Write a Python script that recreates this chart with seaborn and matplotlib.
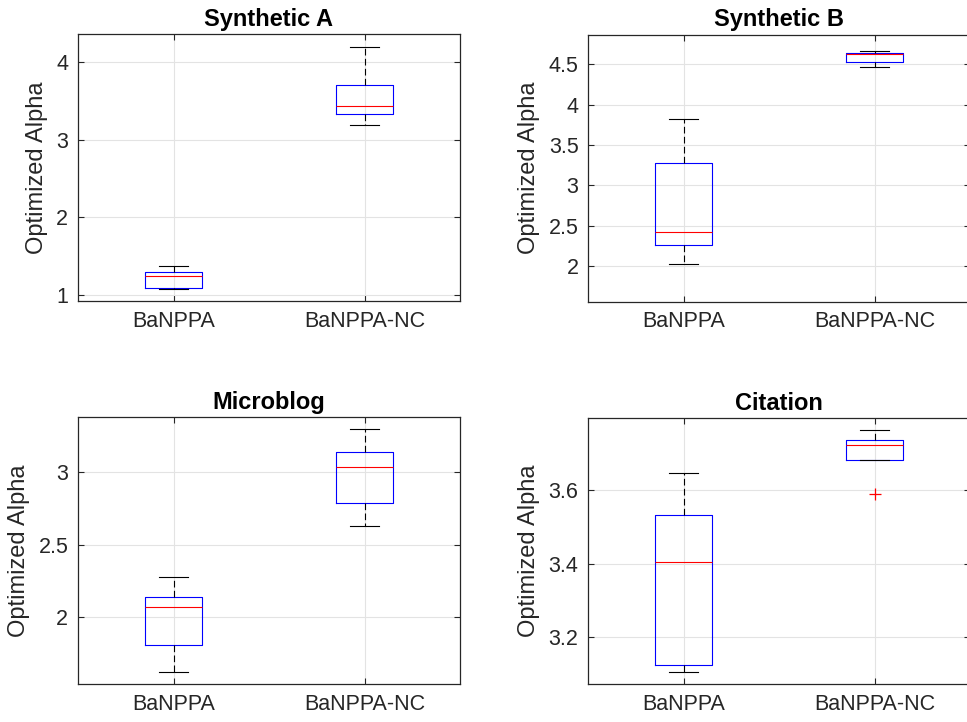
import numpy as np
import pandas as pd
import matplotlib
matplotlib.use("Agg")
import matplotlib.pyplot as plt
from matplotlib.ticker import FuncFormatter
import seaborn as sns

plt.rcParams["font.family"] = ["Liberation Sans", "DejaVu Sans"]

methods = ["BaNPPA", "BaNPPA-NC"]

# Optimized alpha samples per dataset and method
synth_a_banppa = [1.07, 1.09, 1.237, 1.297, 1.366]
synth_a_nc = [3.191, 3.329, 3.428, 3.699, 4.197]
synth_b_banppa = [2.029, 2.260, 2.426, 3.281, 3.819]
synth_b_nc = [4.463, 4.525, 4.628, 4.644, 4.669]
microblog_banppa = [1.621, 1.809, 2.071, 2.142, 2.280]
microblog_nc = [2.631, 2.790, 3.034, 3.135, 3.299]
citation_banppa = [3.103, 3.122, 3.403, 3.533, 3.648]
citation_nc = [3.589, 3.683, 3.724, 3.738, 3.765]

titles = ["Synthetic A", "Synthetic B", "Microblog", "Citation"]
yticks = [[1, 2, 3, 4], [2, 2.5, 3, 3.5, 4, 4.5], [2, 2.5, 3], [3.2, 3.4, 3.6]]
ylims = [(0.919, 4.361), (1.558, 4.867), (1.540, 3.377), (3.071, 3.797)]

panels = [
    (synth_a_banppa, synth_a_nc),
    (synth_b_banppa, synth_b_nc),
    (microblog_banppa, microblog_nc),
    (citation_banppa, citation_nc),
]

W, H = 967, 722
fig = plt.figure(figsize=(W / 100, H / 100), dpi=100)

# axes boxes in pixels: left, top, right, bottom
boxes = [
    (78, 34, 460, 301),
    (588.3, 34.7, 970.2, 301.7),
    (78, 417.3, 460, 684),
    (588.3, 418.3, 970.2, 684),
]

axis_col = "#262626"
lw = 0.8

for (l, t, r, b), (v1, v2), title, yt, yl in zip(boxes, panels, titles, yticks, ylims):
    ax = fig.add_axes([l / W, 1 - b / H, (r - l) / W, (b - t) / H])
    df = pd.DataFrame({
        "method": [methods[0]] * len(v1) + [methods[1]] * len(v2),
        "alpha": list(v1) + list(v2),
    })
    sns.boxplot(
        data=df, x="method", y="alpha", order=methods, ax=ax,
        width=0.3, fill=False, color="blue", whis=1.5,
        boxprops=dict(color="blue", linewidth=lw),
        medianprops=dict(color="red", linewidth=lw),
        whiskerprops=dict(color="black", linestyle=(0, (6, 3)), linewidth=lw),
        capprops=dict(color="black", linewidth=lw),
        flierprops=dict(marker="+", markeredgecolor="red", markerfacecolor="red",
                        markersize=9, markeredgewidth=0.9),
    )
    ax.set_xlim(-0.5, 1.5)
    ax.set_ylim(*yl)
    ax.set_yticks(yt)
    ax.yaxis.set_major_formatter(FuncFormatter(lambda v, p: f"{v:g}"))
    ax.set_xlabel("")
    ax.set_ylabel("Optimized Alpha", fontsize=17, color=axis_col, labelpad=6)
    ax.set_title(title, fontsize=17, fontweight="bold", pad=6)
    ax.set_axisbelow(True)
    ax.grid(True, axis="both", color="#e3e3e3", linewidth=0.8)
    for s in ax.spines.values():
        s.set_color(axis_col)
        s.set_linewidth(0.9)
    ax.tick_params(direction="in", top=True, right=True, length=4, width=0.8,
                   color=axis_col, labelcolor=axis_col, labelsize=15.5, pad=7)

fig.savefig("out.png", dpi=100)
